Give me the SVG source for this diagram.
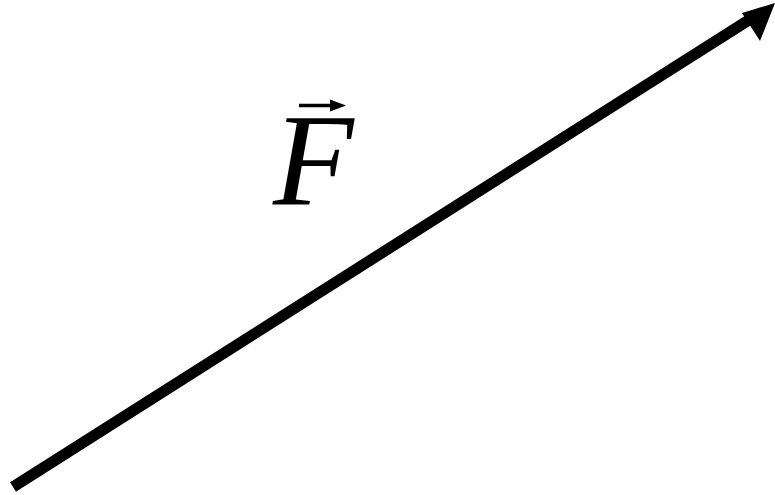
<svg xmlns="http://www.w3.org/2000/svg" width="775" height="495" viewBox="0 0 775 495">
<style>
.vec{stroke:#000;stroke-width:11;fill:none}
.lbl{font-family:"Liberation Serif","Times New Roman",serif;font-style:italic;font-size:132px;fill:#000}
</style>
<rect width="775" height="495" fill="#fff"/>
<g id="connectors">
<line class="vec" x1="13" y1="487" x2="752" y2="18"/>
<polygon points="775,3 742,13 760,41" fill="#000"/>
</g>
<g id="label-F">
<text class="lbl" x="273" y="205">F</text>
<line x1="299" y1="105.5" x2="334" y2="105.5" stroke="#000" stroke-width="3.5"/>
<polygon points="346,105.5 330,99.5 330,111.5" fill="#000"/>
</g>
</svg>
